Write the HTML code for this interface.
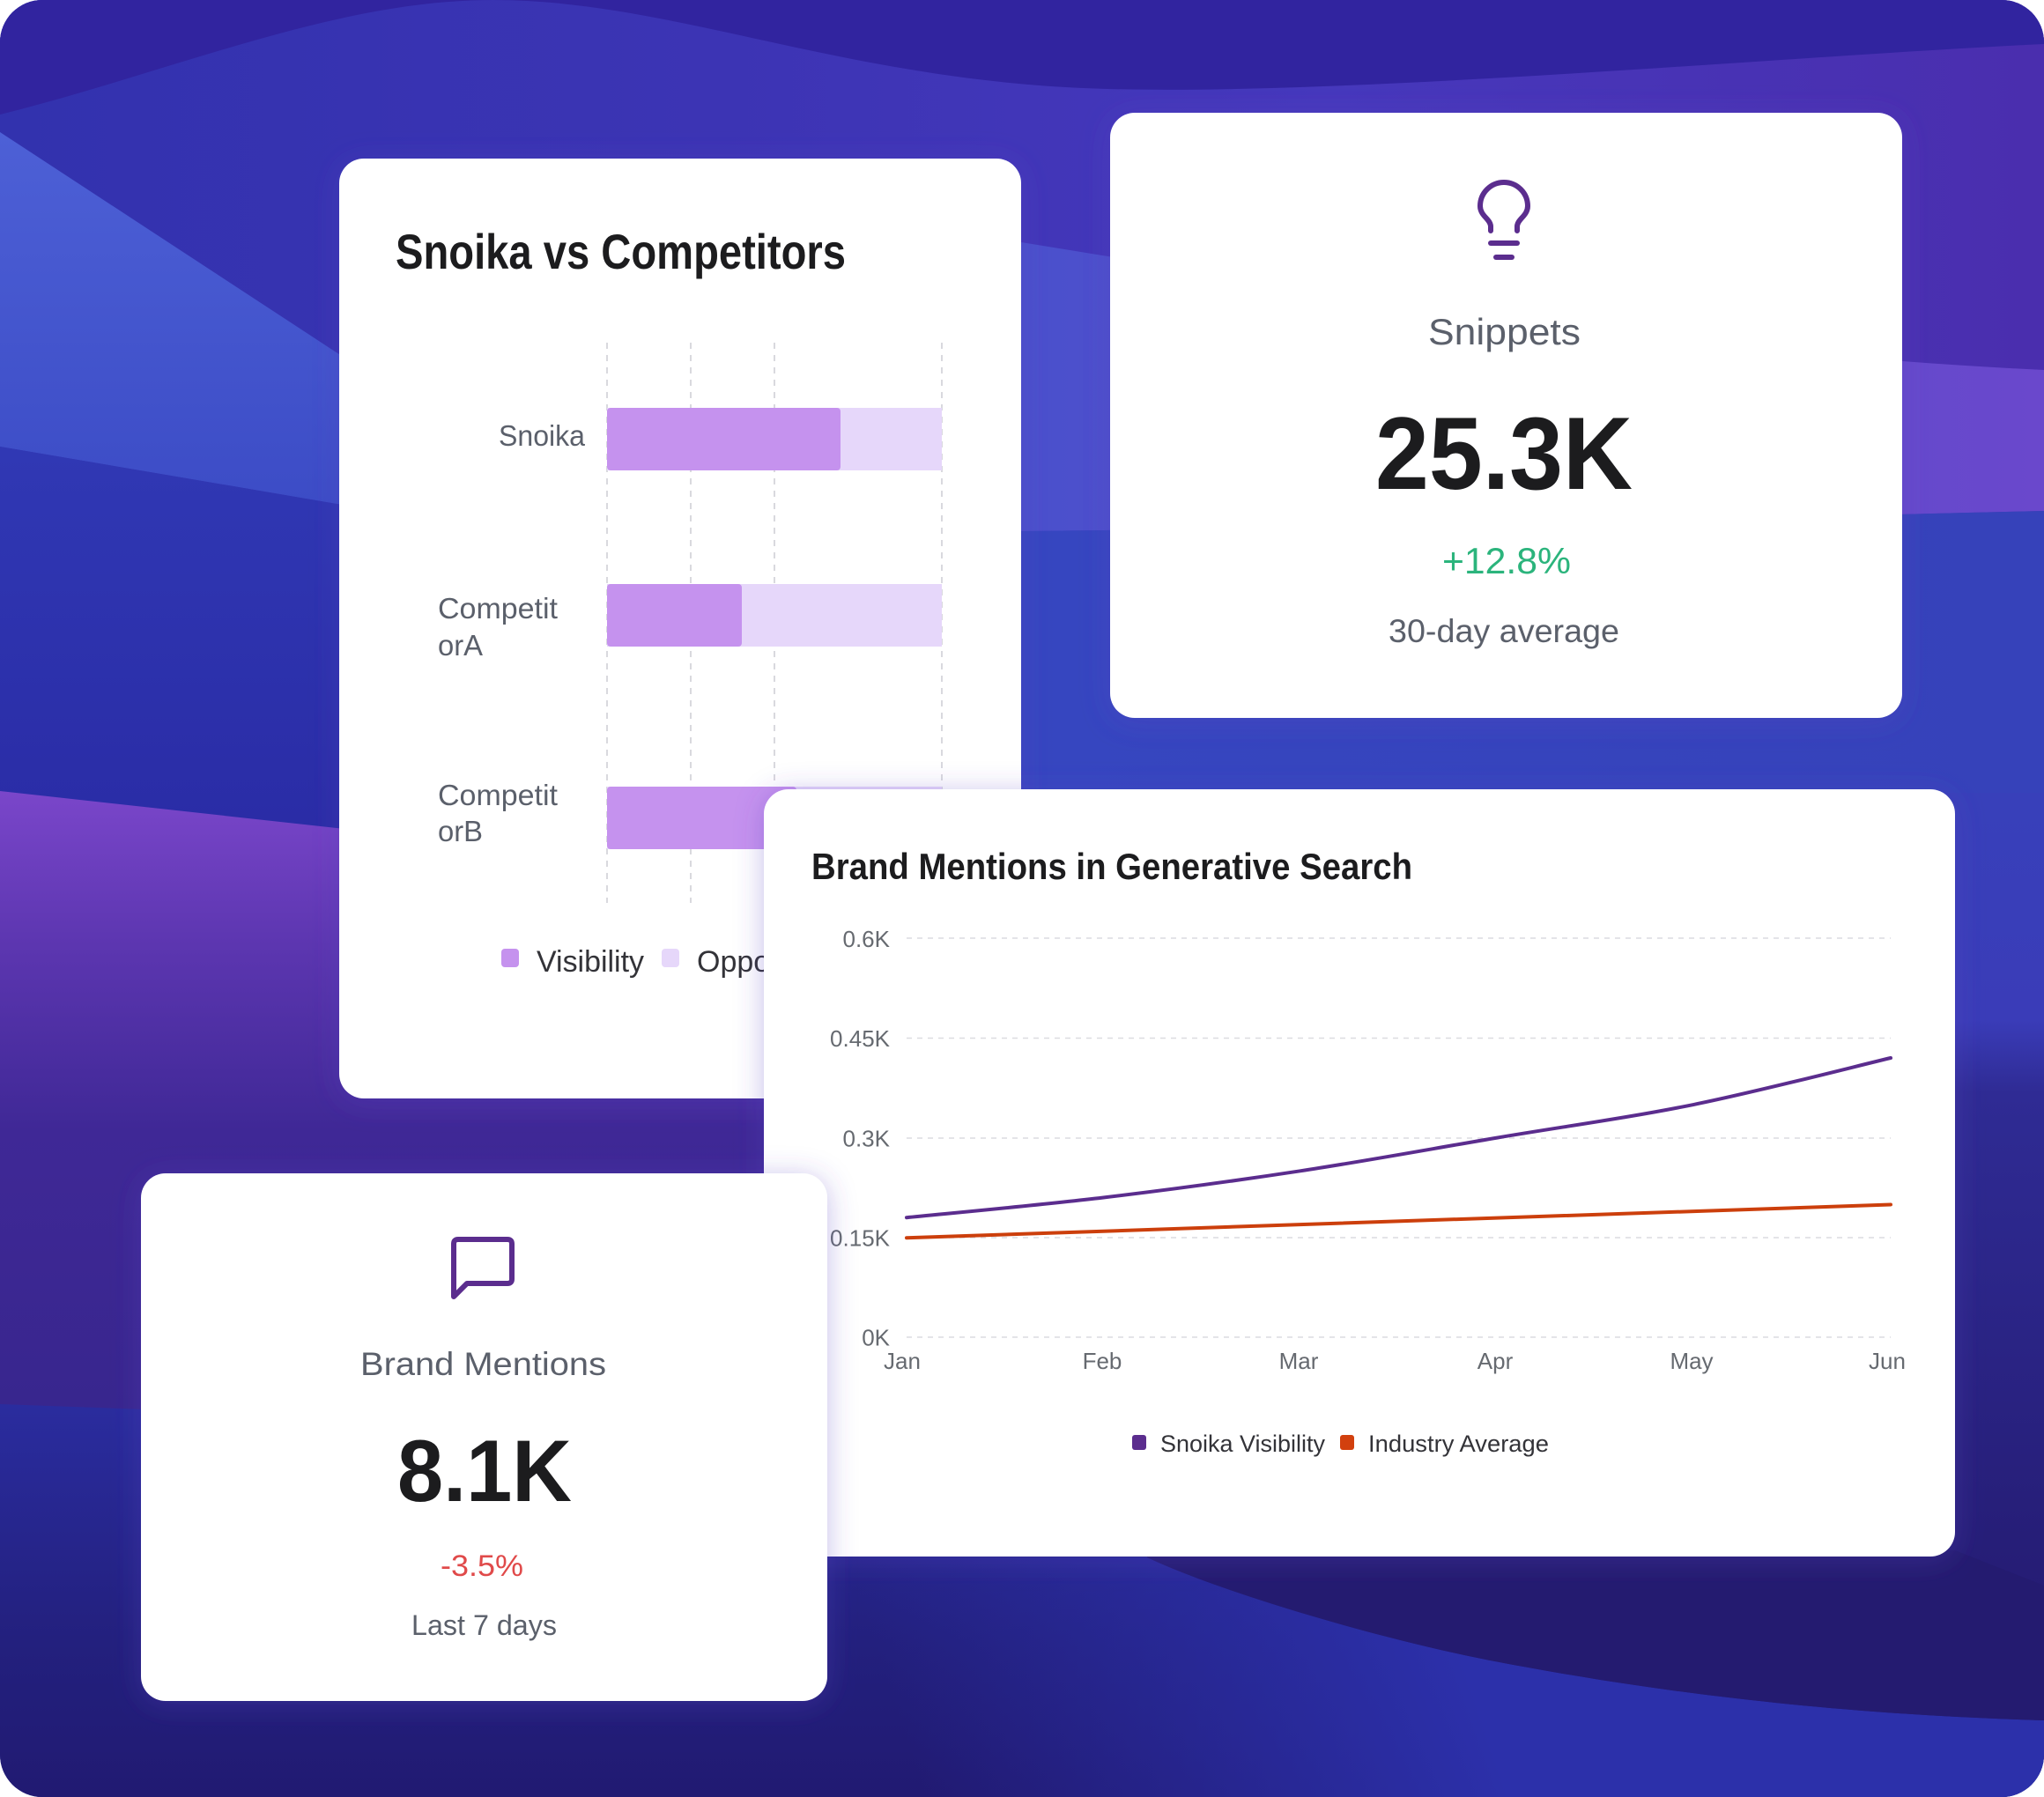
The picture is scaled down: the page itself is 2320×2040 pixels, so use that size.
<!DOCTYPE html>
<html>
<head>
<meta charset="utf-8">
<style>
html,body{margin:0;padding:0;background:#ffffff;}
svg{display:block;}
text{font-family:"Liberation Sans",Arial,sans-serif;}
</style>
</head>
<body>
<svg width="2320" height="2040" viewBox="0 0 2320 2040" xmlns="http://www.w3.org/2000/svg">
<defs>
  <clipPath id="outer"><rect x="0" y="0" width="2320" height="2040" rx="48" ry="48"/></clipPath>
  <filter id="sh" x="-15%" y="-15%" width="130%" height="130%">
    <feDropShadow dx="0" dy="4" stdDeviation="16" flood-color="#5a40c0" flood-opacity="0.35"/>
  </filter>
  <linearGradient id="gTop" x1="0" y1="0" x2="2320" y2="0" gradientUnits="userSpaceOnUse">
    <stop offset="0" stop-color="#3232ae"/>
    <stop offset="0.35" stop-color="#3c34b4"/>
    <stop offset="0.65" stop-color="#4638bc"/>
    <stop offset="1" stop-color="#4a2eae"/>
  </linearGradient>
  <linearGradient id="gWedge" x1="0" y1="150" x2="0" y2="575" gradientUnits="userSpaceOnUse">
    <stop offset="0" stop-color="#4d60d6"/>
    <stop offset="1" stop-color="#3c4cc6"/>
  </linearGradient>
  <linearGradient id="gMidBlue" x1="0" y1="507" x2="0" y2="940" gradientUnits="userSpaceOnUse">
    <stop offset="0" stop-color="#3038b4"/>
    <stop offset="1" stop-color="#2a2ca6"/>
  </linearGradient>
  <linearGradient id="gPurple" x1="0" y1="898" x2="0" y2="1600" gradientUnits="userSpaceOnUse">
    <stop offset="0" stop-color="#7a46ca"/>
    <stop offset="0.25" stop-color="#5c36b0"/>
    <stop offset="0.55" stop-color="#3f2896"/>
    <stop offset="1" stop-color="#38268e"/>
  </linearGradient>
  <linearGradient id="gBottom" x1="0" y1="1594" x2="0" y2="2040" gradientUnits="userSpaceOnUse">
    <stop offset="0" stop-color="#2a2c9e"/>
    <stop offset="0.6" stop-color="#23207e"/>
    <stop offset="1" stop-color="#211a72"/>
  </linearGradient>
  <linearGradient id="gR1" x1="1159" y1="0" x2="2320" y2="0" gradientUnits="userSpaceOnUse">
    <stop offset="0" stop-color="#4a50cc"/>
    <stop offset="1" stop-color="#6a48cc"/>
  </linearGradient>
  <linearGradient id="gR2" x1="1159" y1="0" x2="2320" y2="0" gradientUnits="userSpaceOnUse">
    <stop offset="0" stop-color="#3646c0"/>
    <stop offset="1" stop-color="#3642ba"/>
  </linearGradient>
  <linearGradient id="gRight" x1="0" y1="900" x2="0" y2="1820" gradientUnits="userSpaceOnUse">
    <stop offset="0" stop-color="#3840ba"/>
    <stop offset="0.28" stop-color="#3a3cb8"/>
    <stop offset="0.37" stop-color="#2f2b94"/>
    <stop offset="1" stop-color="#251c74"/>
  </linearGradient>
  <linearGradient id="gWave" x1="1650" y1="1840" x2="1050" y2="2040" gradientUnits="userSpaceOnUse">
    <stop offset="0" stop-color="#2c30aa" stop-opacity="1"/>
    <stop offset="1" stop-color="#2c30aa" stop-opacity="0"/>
  </linearGradient>
</defs>

<!-- BACKGROUND -->
<g clip-path="url(#outer)">
  <rect x="0" y="0" width="2320" height="2040" fill="#2b2ca4"/>
  <rect x="0" y="0" width="2320" height="620" fill="url(#gTop)"/>
  <path d="M0,0 H2320 V50 C2050,62 1500,112 1230,100 C950,88 760,0 560,0 C380,0 200,80 0,130 Z" fill="#31249f"/>
  <path d="M0,150 L400,412 L400,575 L0,507 Z" fill="url(#gWedge)"/>
  <path d="M0,507 L400,575 L400,942 L0,898 Z" fill="url(#gMidBlue)"/>
  <path d="M0,898 L400,942 L1159,1010 L1159,1600 L0,1600 Z" fill="url(#gPurple)"/>
  <path d="M1159,275 C1500,330 1900,400 2320,420 L2320,580 C1900,590 1500,600 1159,603 Z" fill="url(#gR1)"/>
  <path d="M1159,603 C1500,600 1900,590 2320,580 L2320,900 L1159,900 Z" fill="url(#gR2)"/>
  <path d="M0,1594 L1000,1630 L2320,1650 L2320,2040 L0,2040 Z" fill="url(#gBottom)"/>
  <rect x="2159" y="900" width="161" height="920" fill="url(#gRight)"/>
  <path d="M1302,1768 C1380,1805 1560,1860 1702,1887 C1850,1915 2050,1945 2320,1953 L2320,2040 L0,2040 L0,1768 Z" fill="url(#gWave)"/>
  <path d="M1302,1768 C1380,1805 1560,1860 1702,1887 C1850,1915 2050,1945 2320,1953 V1800 L2219,1760 H1302 Z" fill="#241b70"/>
</g>

<!-- CARD 1: Snoika vs Competitors -->
<rect x="385" y="180" width="774" height="1067" rx="28" ry="28" fill="#ffffff" filter="url(#sh)"/>
<text x="449" y="305" font-size="56" font-weight="bold" fill="#1c1c1e" textLength="511" lengthAdjust="spacingAndGlyphs">Snoika vs Competitors</text>
<g stroke="#d9d9de" stroke-width="2" stroke-dasharray="7 7">
  <line x1="689" y1="389" x2="689" y2="1025"/>
  <line x1="784" y1="389" x2="784" y2="1025"/>
  <line x1="879" y1="389" x2="879" y2="1025"/>
  <line x1="1069" y1="389" x2="1069" y2="1025"/>
</g>
<rect x="689" y="463" width="380" height="71" fill="#e6d7fa"/>
<rect x="689" y="463" width="265" height="71" rx="4" fill="#c592ee"/>
<rect x="689" y="663" width="380" height="71" fill="#e6d7fa"/>
<rect x="689" y="663" width="153" height="71" rx="4" fill="#c592ee"/>
<rect x="689" y="893" width="380" height="71" fill="#e6d7fa"/>
<rect x="689" y="893" width="215" height="71" rx="4" fill="#c592ee"/>
<g font-size="33" fill="#5b606b">
  <text x="566" y="506" textLength="98" lengthAdjust="spacingAndGlyphs">Snoika</text>
  <text x="497" y="702" textLength="136" lengthAdjust="spacingAndGlyphs">Competit</text>
  <text x="497" y="744" textLength="51" lengthAdjust="spacingAndGlyphs">orA</text>
  <text x="497" y="914" textLength="136" lengthAdjust="spacingAndGlyphs">Competit</text>
  <text x="497" y="955" textLength="51" lengthAdjust="spacingAndGlyphs">orB</text>
</g>
<rect x="569" y="1077" width="20" height="21" rx="4" fill="#c592ee"/>
<text x="609" y="1103" font-size="34" fill="#333338" textLength="122" lengthAdjust="spacingAndGlyphs">Visibility</text>
<rect x="751" y="1077" width="20" height="21" rx="4" fill="#e6d7fa"/>
<text x="791" y="1103" font-size="34" fill="#333338">Opportunity</text>

<!-- CARD 2: Snippets -->
<rect x="1260" y="128" width="899" height="687" rx="28" ry="28" fill="#ffffff" filter="url(#sh)"/>
<g fill="none" stroke="#5b2d8e" stroke-width="6" stroke-linecap="round" stroke-linejoin="round">
  <path d="M1692,262 L1692,257 C1692,249 1680,245 1680,234 A27,27 0 1 1 1734,234 C1734,245 1722,249 1722,257 L1722,262"/>
  <line x1="1692" y1="276" x2="1722" y2="276"/>
  <line x1="1698" y1="292" x2="1716" y2="292"/>
</g>
<text x="1621" y="391" font-size="42" fill="#5b606b" textLength="173" lengthAdjust="spacingAndGlyphs">Snippets</text>
<text x="1561" y="555" font-size="117" font-weight="bold" fill="#1c1c1e" textLength="292" lengthAdjust="spacingAndGlyphs">25.3K</text>
<text x="1637" y="651" font-size="42" fill="#2bb47c" textLength="146" lengthAdjust="spacingAndGlyphs">+12.8%</text>
<text x="1576" y="729" font-size="37" fill="#5b606b" textLength="262" lengthAdjust="spacingAndGlyphs">30-day average</text>

<!-- CARD 3: Brand Mentions in Generative Search -->
<rect x="867" y="896" width="1352" height="871" rx="28" ry="28" fill="#ffffff" filter="url(#sh)"/>
<text x="921" y="998" font-size="42" font-weight="bold" fill="#1c1c1e" textLength="682" lengthAdjust="spacingAndGlyphs">Brand Mentions in Generative Search</text>
<g stroke="#dcdce0" stroke-width="1.6" stroke-dasharray="6 6">
  <line x1="1029" y1="1065" x2="2146" y2="1065"/>
  <line x1="1029" y1="1178.5" x2="2146" y2="1178.5"/>
  <line x1="1029" y1="1292" x2="2146" y2="1292"/>
  <line x1="1029" y1="1405" x2="2146" y2="1405"/>
  <line x1="1029" y1="1518" x2="2146" y2="1518"/>
</g>
<g font-size="26" fill="#666a70" text-anchor="end">
  <text x="1010" y="1075">0.6K</text>
  <text x="1010" y="1188">0.45K</text>
  <text x="1010" y="1301.5">0.3K</text>
  <text x="1010" y="1414.5">0.15K</text>
  <text x="1010" y="1527.5">0K</text>
</g>
<g font-size="26" fill="#666a70" text-anchor="middle">
  <text x="1024" y="1554">Jan</text>
  <text x="1251" y="1554">Feb</text>
  <text x="1474" y="1554">Mar</text>
  <text x="1697" y="1554">Apr</text>
  <text x="1920" y="1554">May</text>
  <text x="2142" y="1554">Jun</text>
</g>
<polyline points="1029,1405.2 1252.4,1397.7 1475.8,1390.1 1699.2,1382.6 1922.6,1375.1 2146,1367.5" fill="none" stroke="#cc3f0c" stroke-width="4" stroke-linejoin="round" stroke-linecap="round"/>
<path d="M1029,1382.2 C1066.2,1378.4 1177.9,1368.3 1252.4,1359.5 C1326.9,1350.7 1401.3,1340.6 1475.8,1329.3 C1550.3,1318.0 1624.7,1304.2 1699.2,1291.6 C1773.7,1279.0 1848.1,1269.0 1922.6,1253.9 C1997.1,1238.8 2108.8,1209.8 2146,1201.0" fill="none" stroke="#5b2d8e" stroke-width="4" stroke-linecap="round"/>
<rect x="1285" y="1629" width="16" height="17" rx="3" fill="#5b2d8e"/>
<text x="1317" y="1648" font-size="26.5" fill="#333338" textLength="187" lengthAdjust="spacingAndGlyphs">Snoika Visibility</text>
<rect x="1521" y="1629" width="16" height="17" rx="3" fill="#d2400e"/>
<text x="1553" y="1648" font-size="26.5" fill="#333338" textLength="205" lengthAdjust="spacingAndGlyphs">Industry Average</text>

<!-- CARD 4: Brand Mentions -->
<rect x="160" y="1332" width="779" height="599" rx="28" ry="28" fill="#ffffff" filter="url(#sh)"/>
<path d="M515,1472 V1412 Q515,1407 520,1407 H576 Q581,1407 581,1412 V1452 Q581,1457 576,1457 H530 Z" fill="none" stroke="#5b2d8e" stroke-width="6" stroke-linejoin="round"/>
<text x="409" y="1561" font-size="37" fill="#5b606b" textLength="279" lengthAdjust="spacingAndGlyphs">Brand Mentions</text>
<text x="451" y="1704" font-size="99" font-weight="bold" fill="#1c1c1e" textLength="198" lengthAdjust="spacingAndGlyphs">8.1K</text>
<text x="500" y="1789" font-size="34" fill="#e04a4a" textLength="94" lengthAdjust="spacingAndGlyphs">-3.5%</text>
<text x="467" y="1856" font-size="32" fill="#5b606b" textLength="165" lengthAdjust="spacingAndGlyphs">Last 7 days</text>
</svg>
</body>
</html>
